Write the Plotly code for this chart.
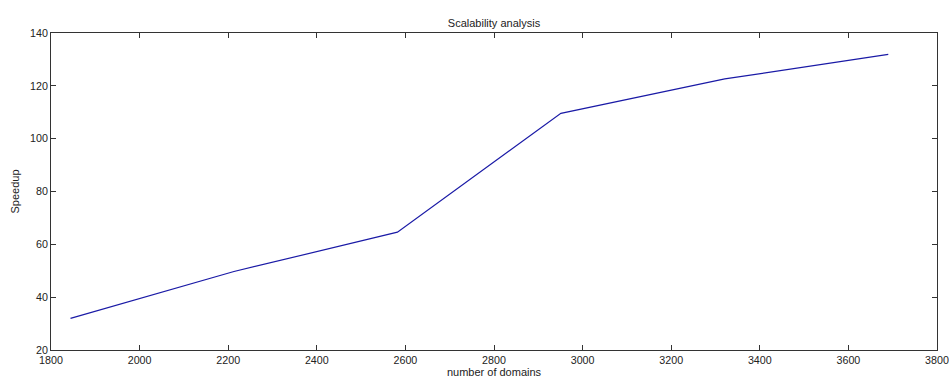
import plotly.graph_objects as go

domains = [1844, 2213, 2582, 2951, 3321, 3690]
speedup = [32.0, 49.7, 64.6, 109.6, 122.6, 131.9]
x_ticks = [1800, 2000, 2200, 2400, 2600, 2800, 3000, 3200, 3400, 3600, 3800]
y_ticks = [20, 40, 60, 80, 100, 120, 140]

FONT = dict(family="Liberation Sans, Arial", size=11, color="#222222")
TICKFONT = dict(family="Liberation Sans, Arial", size=10.7, color="#222222")

fig = go.Figure()
fig.add_trace(go.Scatter(x=domains, y=speedup, mode="lines",
                         line=dict(color="#1a1aa6", width=1.2), showlegend=False))

axis_common = dict(showline=True, linecolor="#333333", linewidth=1, mirror="ticks",
                   ticks="inside", ticklen=5, tickcolor="#333333", showgrid=False,
                   zeroline=False, automargin=False, tickfont=TICKFONT,
                   ticklabeloverflow="allow")

fig.update_layout(
    width=949, height=379,
    margin=dict(l=51, r=12, t=33, b=29),
    paper_bgcolor="white", plot_bgcolor="white",
    title=dict(text="Scalability analysis", x=0.5, xanchor="center", xref="paper",
               y=1, yref="paper", yanchor="bottom", pad=dict(b=6), automargin=False,
               font=FONT),
    xaxis=dict(range=[1800, 3800], tickvals=x_ticks,
               title=dict(text="number of domains", standoff=2, font=FONT), **axis_common),
    yaxis=dict(range=[20, 140], tickvals=y_ticks,
               title=dict(text="Speedup", standoff=8, font=FONT), **axis_common),
)

# remove the default page margin so the figure fills the window exactly
fig.write_html("out.html",
               config={"displayModeBar": False},
               post_script="document.body.style.margin='0';document.body.style.overflow='hidden';")
